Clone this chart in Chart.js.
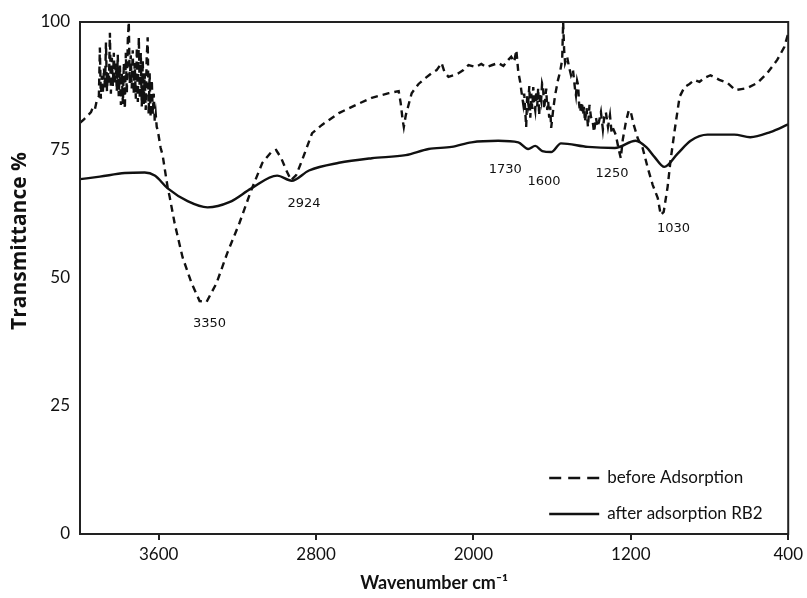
<!DOCTYPE html>
<html>
<head>
<meta charset="utf-8">
<script src="https://cdn.jsdelivr.net/npm/chart.js@4.4.1/dist/chart.umd.min.js"></script>
<style>
  body { margin: 0; background: #fff; }
  #wrap { width: 807px; height: 598px; }
</style>
</head>
<body>
<div id="wrap"><canvas id="ftir" width="807" height="598"></canvas></div>
<script>
// FTIR spectra, wavenumber (cm-1) vs transmittance (%)
const xTicks = [3600, 2800, 2000, 1200, 400];
const yTicks = [0, 25, 50, 75, 100];

// sample before adsorption (noisy O-H region at the high end)
const beforeWn = [4000, 3980, 3959, 3944, 3934, 3924, 3914, 3904, 3899, 3894, 3889, 3884, 3878, 3873, 3868, 3863,
  3858, 3853, 3848, 3843, 3838, 3833, 3828, 3823, 3818, 3813, 3808, 3803, 3797, 3792, 3787, 3782, 3777, 3772,
  3767, 3762, 3757, 3752, 3747, 3742, 3737, 3732, 3727, 3722, 3716, 3711, 3706, 3701, 3696, 3691, 3686, 3681,
  3676, 3671, 3666, 3661, 3656, 3651, 3646, 3641, 3635, 3630, 3625, 3620, 3615, 3610, 3605,
  3590, 3580, 3570, 3554, 3544, 3519, 3479, 3433, 3392, 3357, 3306, 3251, 3190, 3129, 3073,
  3028, 3003, 2977, 2952, 2927, 2901, 2871, 2820, 2770, 2684, 2598, 2517, 2430, 2380, 2370, 2360, 2354, 2344,
  2334, 2314, 2279, 2243, 2213, 2187, 2162, 2147, 2127, 2101, 2076, 2051, 2025, 1990, 1960, 1934, 1904, 1874,
  1848, 1823, 1808, 1793, 1782, 1772, 1762, 1757, 1747, 1742, 1737, 1732, 1727, 1722, 1716, 1711, 1706, 1701,
  1696, 1691, 1686, 1681, 1676, 1671, 1666, 1661, 1656, 1651, 1646, 1641, 1635, 1630, 1625, 1620, 1615, 1610,
  1605, 1600, 1595, 1585, 1570, 1560, 1549, 1544, 1539, 1534, 1524, 1514, 1504, 1494, 1484, 1479, 1473, 1468,
  1463, 1458, 1448, 1443, 1438, 1433, 1425, 1418, 1410, 1403, 1395, 1387, 1377, 1370, 1362, 1352, 1342, 1335,
  1327, 1316, 1306, 1298, 1291, 1276, 1261, 1251, 1241, 1225, 1210, 1200, 1185,
  1165, 1140, 1114, 1089, 1063, 1048, 1033, 1013, 998, 977, 952, 927, 902, 876, 851, 826, 795, 770, 750, 709,
  669, 638, 608, 557, 507, 456, 420, 400];
const beforeT = [80.3, 81.0, 81.8, 82.4, 83.4, 83.0, 84.8, 85.5, 95.0, 85.0, 89.5, 86.0, 91.0, 87.0, 96.0, 86.5,
  90.0, 88.0, 97.9, 86.0, 93.0, 87.5, 94.0, 88.0, 92.0, 86.5, 93.6, 85.5, 91.5, 83.8, 90.0, 84.0, 92.0, 83.0,
  94.0, 86.0, 96.5, 100, 88.0, 93.5, 87.0, 94.5, 86.0, 92.0, 85.0, 95.0, 84.4, 97.0, 85.0, 94.0, 83.5, 92.5,
  84.0, 90.0, 82.8, 93.0, 97.0, 82.0, 90.0, 81.5, 88.7, 82.0, 86.0, 80.5, 82.0, 79.5, 78.9,
  75.4, 74.0, 71.5, 67.6, 65.8, 60.7, 54.1, 49.0, 45.5, 45.3, 49.0, 54.9, 60.7, 67.2, 72.5,
  74.6, 75.0, 73.4, 71.1, 69.1, 70.1, 73.0, 78.3, 79.9, 82.2, 83.8, 85.2, 86.1, 86.5, 84.2, 80.9, 79.5, 81.8,
  83.2, 86.1, 87.9, 89.1, 90.0, 90.6, 92.0, 90.2, 89.3, 89.6, 90.0, 90.6, 91.6, 91.2, 91.8, 91.2, 91.6, 92.0,
  91.4, 92.6, 93.2, 92.2, 94.5, 90.2, 88.2, 86.7, 84.0, 86.0, 82.8, 79.5, 85.5, 84.2, 87.5, 81.3, 86.0, 83.0,
  87.3, 84.0, 82.8, 86.5, 83.5, 87.1, 81.8, 86.0, 84.8, 88.0, 87.3, 83.0, 85.2, 87.0, 82.8, 84.5, 81.3, 83.5,
  79.3, 81.0, 82.8, 85.7, 88.7, 90.2, 92.6, 100, 94.5, 92.0, 93.2, 91.2, 89.6, 90.6, 87.0, 85.7, 88.5, 87.7,
  84.0, 82.4, 84.4, 81.8, 83.5, 80.5, 83.2, 79.5, 83.8, 81.5, 80.9, 78.5, 81.3, 79.5, 80.5, 82.4, 79.0, 81.5,
  82.4, 79.5, 81.8, 78.5, 79.3, 77.9, 75.0, 73.4, 77.0, 80.5, 82.8, 82.4, 79.9,
  77.3, 75.4, 71.5, 68.2, 65.6, 62.3, 62.9, 67.8, 73.0, 78.9, 85.4, 87.3, 87.9, 88.7, 88.3, 89.1, 89.6, 89.1, 88.7, 88.1,
  86.7, 86.9, 87.1, 88.1, 90.0, 92.6, 95.1, 97.8];

// sample after adsorption of RB2
const afterWn = [4000, 3899, 3772, 3671, 3620, 3554, 3453, 3352, 3241, 3129, 2998, 2924, 2836, 2684, 2517, 2344,
  2228, 2111, 2010, 1874, 1772, 1722, 1686, 1650, 1605, 1555, 1418, 1281, 1175, 1120, 1079, 1030, 962, 896,
  810, 674, 593, 491, 400];
const afterT = [69.3, 69.8, 70.5, 70.6, 70.0, 67.5, 65.0, 63.8, 64.8, 67.5, 70.0, 69.0, 71.0, 72.5, 73.4, 74.0,
  75.2, 75.6, 76.5, 76.8, 76.5, 75.2, 75.8, 74.8, 74.6, 76.3, 75.6, 75.4, 76.8, 75.5, 73.6, 71.7, 74.3, 76.8,
  78.0, 78.0, 77.5, 78.5, 80.0];

// band assignments written next to the peaks
const peakText = ['3350', '2924', '1730', '1600', '1250', '1030'];
const peakWn = [3342, 2861, 1838, 1641, 1296, 983];
const peakT = [41.0, 64.6, 71.1, 68.9, 70.3, 59.6];

const ink = '#111';
const toPoints = (xs, ys) => xs.map((x, i) => ({ x: x, y: ys[i] }));

const extras = {
  id: 'extras',
  afterDatasetsDraw(chart) {
    const { ctx, chartArea: a, scales } = chart;
    ctx.save();
    // frame on top and right
    ctx.strokeStyle = '#222';
    ctx.lineWidth = 2;
    ctx.strokeRect(a.left, a.top, a.right - a.left, a.bottom - a.top);

    // peak labels
    ctx.fillStyle = ink;
    ctx.font = '13px "DejaVu Sans"';
    ctx.textAlign = 'center';
    ctx.textBaseline = 'middle';
    peakText.forEach((t, i) => {
      ctx.fillText(t, scales.x.getPixelForValue(peakWn[i]), scales.y.getPixelForValue(peakT[i]));
    });

    // legend in the lower right corner
    ctx.font = '17px Lato';
    ctx.textAlign = 'left';
    chart.data.datasets.forEach((ds, i) => {
      const y = a.bottom - 56 + i * 36;
      const x0 = a.right - 239;
      ctx.strokeStyle = ink;
      ctx.lineWidth = 2.4;
      ctx.setLineDash(ds.borderDash && ds.borderDash.length ? [12, 7] : []);
      ctx.beginPath();
      ctx.moveTo(x0, y);
      ctx.lineTo(x0 + 50, y);
      ctx.stroke();
      ctx.setLineDash([]);
      ctx.fillText(ds.label, x0 + 58, y);
    });

    // y axis title
    ctx.font = 'bold 21px "Open Sans"';
    ctx.textAlign = 'center';
    ctx.translate(20, 241);
    ctx.rotate(-Math.PI / 2);
    ctx.fillText('Transmittance %', 0, 0);
    ctx.restore();
  }
};

new Chart(document.getElementById('ftir'), {
  type: 'line',
  data: {
    datasets: [
      {
        label: 'before Adsorption',
        data: toPoints(beforeWn, beforeT),
        borderColor: ink,
        borderWidth: 2.4,
        borderDash: [7, 5],
        pointRadius: 0,
        tension: 0
      },
      {
        label: 'after adsorption RB2',
        data: toPoints(afterWn, afterT),
        borderColor: ink,
        borderWidth: 2.4,
        pointRadius: 0,
        cubicInterpolationMode: 'monotone'
      }
    ]
  },
  options: {
    responsive: false,
    animation: false,
    layout: { padding: { top: 22, right: 16, left: 0, bottom: 0 } },
    plugins: { legend: { display: false }, tooltip: { enabled: false } },
    scales: {
      x: {
        type: 'linear',
        reverse: true,
        min: 400,
        max: 4000,
        afterBuildTicks: (s) => { s.ticks = xTicks.map(v => ({ value: v })); },
        afterFit: (s) => { s.height = 64; },
        grid: { drawOnChartArea: false, drawTicks: true, tickLength: 6, color: '#222', lineWidth: 2 },
        border: { display: true, color: '#222', width: 2 },
        ticks: { color: ink, font: { family: 'Lato', size: 17 }, padding: 4, maxRotation: 0, callback: (v) => String(v) },
        title: {
          display: true,
          text: 'Wavenumber cm⁻¹',
          color: ink,
          font: { family: 'Lato', size: 18, weight: 'bold' },
          padding: { top: 2, bottom: 4 }
        }
      },
      y: {
        min: 0,
        max: 100,
        afterBuildTicks: (s) => { s.ticks = yTicks.map(v => ({ value: v })); },
        afterFit: (s) => { s.width = 80; },
        grid: { display: false, drawTicks: false },
        border: { display: true, color: '#222', width: 2 },
        ticks: { color: ink, font: { family: 'Lato', size: 17 }, padding: 10 }
      }
    }
  },
  plugins: [extras]
});
</script>
</body>
</html>
